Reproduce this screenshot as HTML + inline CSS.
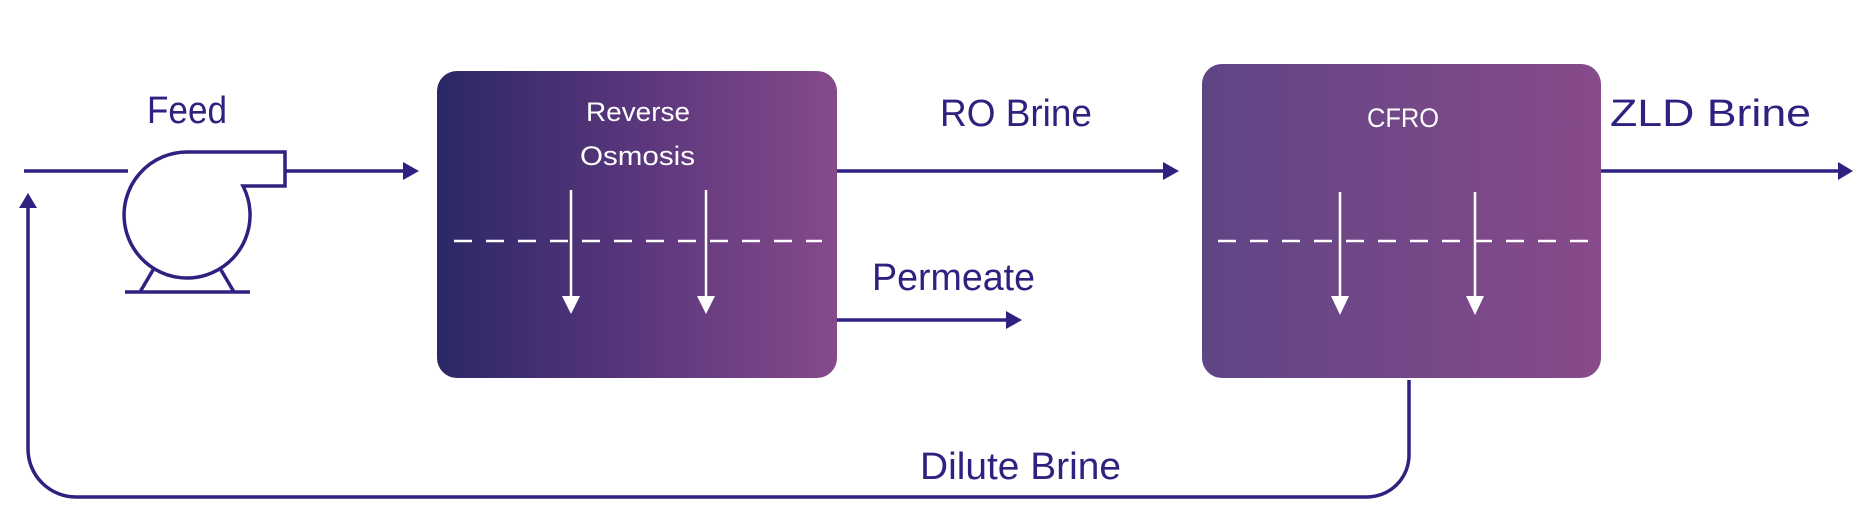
<!DOCTYPE html>
<html><head><style>
html,body{margin:0;padding:0;background:#fff;}
svg{display:block}
text{font-family:"Liberation Sans",sans-serif;}
</style></head><body>
<svg width="1869" height="525" viewBox="0 0 1869 525" xmlns="http://www.w3.org/2000/svg">
<defs>
<linearGradient id="g1" x1="0" x2="1" y1="0" y2="0"><stop offset="0" stop-color="#2b2866"/><stop offset="0.5" stop-color="#5a367c"/><stop offset="1" stop-color="#864a8b"/></linearGradient>
<linearGradient id="g2" x1="0" x2="1" y1="0" y2="0"><stop offset="0" stop-color="#5f4585"/><stop offset="1" stop-color="#884a8b"/></linearGradient>
</defs>
<g stroke="#2e2180" stroke-width="3.5" fill="none">
<line x1="24" y1="171" x2="128" y2="171"/>
<path d="M188 152 H285 V186 H243 A63 63 0 1 1 188 152 Z" fill="#fff"/>
<line x1="125" y1="292" x2="250" y2="292"/>
<line x1="153" y1="270" x2="140" y2="292"/>
<line x1="221" y1="270" x2="234" y2="292"/>
<line x1="285" y1="171" x2="405" y2="171"/>
<line x1="837" y1="171" x2="1165" y2="171"/>
<line x1="837" y1="320" x2="1010" y2="320"/>
<line x1="1601" y1="171" x2="1840" y2="171"/>
<path d="M1409 380 V455 A42 42 0 0 1 1367 497 H76 A48 48 0 0 1 28 449 V205"/>
</g>
<g fill="#2e2180">
<polygon points="403,162 419,171 403,180"/>
<polygon points="1163,162 1179,171 1163,180"/>
<polygon points="1006,311 1022,320 1006,329"/>
<polygon points="1838,162 1853,171 1838,180"/>
<polygon points="19,208 28,193 37,208"/>
</g>
<rect x="437" y="71" width="400" height="307" rx="20" fill="url(#g1)"/>
<rect x="1202" y="64" width="399" height="314" rx="20" fill="url(#g2)"/>
<g stroke="#fff" stroke-width="2.5">
<line x1="454" y1="241" x2="822" y2="241" stroke-dasharray="18 14"/>
<line x1="1218" y1="241" x2="1588" y2="241" stroke-dasharray="18 14"/>
<line x1="571" y1="190" x2="571" y2="300"/>
<line x1="706" y1="190" x2="706" y2="300"/>
<line x1="1340" y1="192" x2="1340" y2="300"/>
<line x1="1475" y1="192" x2="1475" y2="300"/>
</g>
<g fill="#fff">
<polygon points="562,296 580,296 571,314"/>
<polygon points="697,296 715,296 706,314"/>
<polygon points="1331,296 1349,296 1340,315"/>
<polygon points="1466,296 1484,296 1475,315"/>
</g>
<g fill="#fff" font-size="27">
<text x="586" y="121" textLength="104" lengthAdjust="spacingAndGlyphs">Reverse</text>
<text x="580" y="165" textLength="115" lengthAdjust="spacingAndGlyphs">Osmosis</text>
<text x="1367" y="127" textLength="72" lengthAdjust="spacingAndGlyphs">CFRO</text>
</g>
<g fill="#2e2180" font-size="38">
<text x="147" y="123" textLength="80" lengthAdjust="spacingAndGlyphs">Feed</text>
<text x="940" y="126" textLength="152" lengthAdjust="spacingAndGlyphs">RO Brine</text>
<text x="872" y="290" textLength="163" lengthAdjust="spacingAndGlyphs">Permeate</text>
<text x="1610" y="126" textLength="201" lengthAdjust="spacingAndGlyphs">ZLD Brine</text>
<text x="920" y="479" textLength="201" lengthAdjust="spacingAndGlyphs">Dilute Brine</text>
</g>
</svg>
</body></html>
